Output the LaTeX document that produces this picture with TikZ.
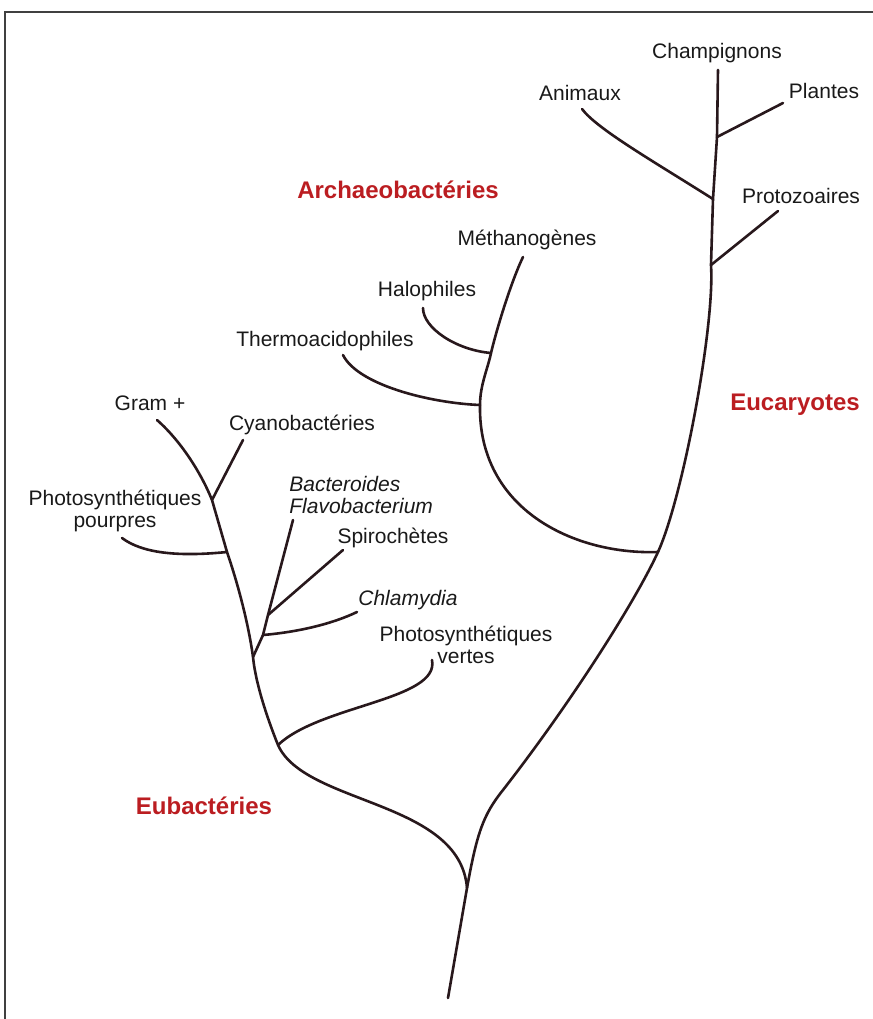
\documentclass[tikz,border=0pt]{standalone}
\usepackage{fontspec}
\setmainfont{Liberation Sans}
\usepackage{tikz}
\definecolor{groupred}{RGB}{187,29,33}
\definecolor{branch}{RGB}{40,24,28}

\begin{document}
\begin{tikzpicture}[x=0.5pt, y=-0.5pt,
  taxon/.style={font=\fontsize{10.5}{10.8}\selectfont, text=black!90, inner sep=0pt, align=center},
  taxonit/.style={taxon, font=\fontsize{10.5}{10.8}\selectfont\itshape},
  group/.style={font=\fontsize{12}{14}\selectfont\bfseries, text=groupred, inner sep=0pt},
  lineage/.style={draw=branch, line width=1.3pt, line cap=round}]
\useasboundingbox (0,0) rectangle (873,1019);
\draw[line width=0.8pt, black!75] (873,12) -- (5,12) -- (5,1019);

% Eucaryotes
\node[taxon] (champ) at (717,53) {Champignons};
\node[taxon] (animaux) at (580,93) {Animaux};
\node[taxon] (plantes) at (824,91) {Plantes};
\node[taxon] (protozoa) at (801,196) {Protozoaires};
\node[group] (euca) at (795,405) {Eucaryotes};
\coordinate (root) at (448,998);
\coordinate (lca) at (467,888);
\coordinate (knee) at (503,790);
\coordinate (arch) at (658,552);
\coordinate (proto) at (711,265);
\coordinate (anim) at (713,199);
\coordinate (plant) at (717,137);
\coordinate (tChamp) at (718,70);
\coordinate (tPlant) at (783,103);
\coordinate (tAnim) at (582,109);
\coordinate (tProto) at (778,211);
\draw[lineage] (root) -- (lca) .. controls +(10,-55) and +(-20,25) .. (knee)
  .. controls +(70,-90) and +(-22,48) .. (arch)
  .. controls +(25,-55) and +(4,60) .. (proto) -- (anim) -- (plant) -- (tChamp);
\draw[lineage] (plant) -- (tPlant);
\draw[lineage] (anim) .. controls +(-60,-38) and +(15,20) .. (tAnim);
\draw[lineage] (proto) -- (tProto);

% Archaeobacteries
\node[group] (archaeo) at (398,190) {Archaeobactéries};
\node[taxon] (methano) at (527,240) {Méthanogènes};
\node[taxon] (halophiles) at (427,291) {Halophiles};
\node[taxon] (thermoac) at (325,341) {Thermoacidophiles};
\coordinate (thermo) at (480,405);
\coordinate (halo) at (491,353);
\coordinate (tMeth) at (523,257);
\coordinate (tHalo) at (423,308);
\coordinate (tTherm) at (343,355);
\draw[lineage] (arch) .. controls +(-83,3) and +(-2,105) .. (thermo)
  .. controls +(0,-20) and +(-3,15) .. (halo)
  .. controls +(6,-25) and +(-12,25) .. (tMeth);
\draw[lineage] (thermo) .. controls +(-50,-2) and +(15,30) .. (tTherm);
\draw[lineage] (halo) .. controls +(-35,-3) and +(0,20) .. (tHalo);

% Eubacteries
\node[group] (eubact) at (204,806) {Eubactéries};
\node[taxon] (gram) at (150,403) {Gram +};
\node[taxon] (cyano) at (302,425) {Cyanobactéries};
\node[taxon] (pourpres) at (115,511) {Photosynthétiques\\pourpres};
\node[taxonit, anchor=west, align=left] (bacter) at (289,495) {Bacteroides\\Flavobacterium};
\node[taxon] (spiro) at (393,538) {Spirochètes};
\node[taxonit] (chlamy) at (408,600) {Chlamydia};
\node[taxon] (vertes) at (466,645) {Photosynthétiques\\vertes};
\coordinate (tGram) at (157,420);
\coordinate (cyan) at (212,500);
\coordinate (pourp) at (227,552);
\coordinate (bact) at (253,657);
\coordinate (vert) at (278,745);
\coordinate (tCyan) at (243,440);
\coordinate (tPourp) at (122,538);
\coordinate (chla) at (263,635);
\coordinate (spir) at (268,615);
\coordinate (tBact) at (293,520);
\coordinate (tSpir) at (343,550);
\coordinate (tChla) at (357,612);
\coordinate (tVert) at (432,660);
\draw[lineage] (tGram) .. controls +(25,22) and +(-10,-25) .. (cyan) -- (pourp)
  .. controls +(12,35) and +(-4,-30) .. (bact)
  .. controls +(3,30) and +(-8,-20) .. (vert)
  .. controls +(27,60) and +(-7,-88) .. (lca);
\draw[lineage] (cyan) -- (tCyan);
\draw[lineage] (pourp) .. controls +(-50,5) and +(20,15) .. (tPourp);
\draw[lineage] (bact) -- (chla) -- (spir) -- (tBact);
\draw[lineage] (spir) -- (tSpir);
\draw[lineage] (chla) .. controls +(35,-3) and +(-25,12) .. (tChla);
\draw[lineage] (vert) .. controls +(42,-40) and +(8,40) .. (tVert);
\end{tikzpicture}
\end{document}
